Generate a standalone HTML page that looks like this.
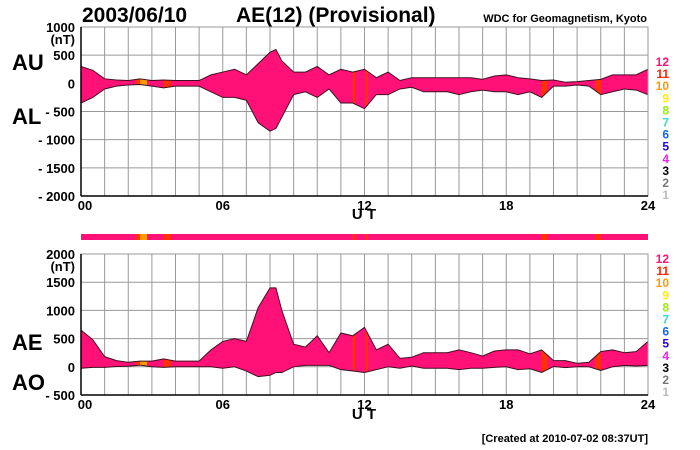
<!DOCTYPE html>
<html><head><meta charset="utf-8"><style>
body{margin:0;background:#fff;}
svg{display:block;font-family:"Liberation Sans",Arial,sans-serif;font-weight:bold;}
</style></head><body>
<svg id="c" width="700" height="450" viewBox="0 0 700 450"></svg>
<script>
const hours=[0,0.5,1,1.5,2,2.5,3,3.5,4,4.5,5,5.5,6,6.5,7,7.5,8,8.25,8.5,9,9.5,10,10.5,11,11.5,12,12.5,13,13.5,14,14.5,15,15.5,16,16.5,17,17.5,18,18.5,19,19.5,20,20.5,21,21.5,22,22.5,23,23.5,24];
const auValues=[300,230,80,60,50,80,50,60,50,50,50,150,200,250,150,350,550,600,400,200,200,300,150,250,200,250,100,200,50,100,100,100,100,100,100,70,130,150,100,80,50,60,20,30,50,70,150,150,150,250];
const alValues=[-350,-250,-100,-50,-30,-20,-50,-80,-50,-50,-50,-150,-250,-250,-300,-700,-850,-800,-600,-200,-150,-250,-100,-350,-350,-450,-200,-200,-100,-70,-150,-150,-150,-200,-150,-120,-150,-150,-200,-150,-250,-50,-50,-30,-50,-200,-150,-100,-120,-200];
const aeValues=[650,480,180,110,80,100,100,140,100,100,100,300,450,500,450,1050,1400,1400,1000,400,350,550,250,600,550,700,300,400,150,170,250,250,250,300,250,190,280,300,300,230,300,110,110,60,80,270,300,250,270,450];
const aoValues=[-25,-10,-10,5,10,30,0,-10,0,0,0,0,-25,0,-75,-175,-150,-100,-100,0,25,25,25,-50,-75,-100,-50,0,-25,15,-25,-25,-25,-50,-25,-25,-10,0,-50,-35,-100,5,-15,0,0,-65,0,25,15,25];
const bandStart=[2.3,2.5,3.5,11.5,12.05,19.5,21.75];
const bandEnd=[2.5,2.8,3.8,11.6,12.15,19.75,22.0];
const bandColor=["#ff3300","#ff9900","#ff3300","#ff3300","#ff3300","#ff3300","#ff3300"];
const xTicks=["00","06","12","18","24"];
const topYTicks=[1000,500,0,-500,-1000,-1500,-2000];
const botYTicks=[2000,1500,1000,500,0,-500];
const legendLabels=["12","11","10","9","8","7","6","5","4","3","2","1"];
const legendColors=["#ff1177","#ff2200","#ff9900","#ffee00","#99ee00","#33ddcc","#1166ff","#2200ee","#ee22ee","#000000","#777777","#bbbbbb"];

const NS="http://www.w3.org/2000/svg",svg=document.getElementById('c');
function mk(t,a,p){const e=document.createElementNS(NS,t);for(const k in a)e.setAttribute(k,a[k]);(p||svg).appendChild(e);return e;}
const X0=81,X1=648;
const x=h=>X0+(X1-X0)*h/24;
function txt(s,a){const e=mk('text',a);e.textContent=s;return e;}

function panel(pt,pb,ymax,ymin,ticks,hi,lo,name,labHi,labLo,labHiY,labLoY,legY){
  const y=v=>pt+(ymax-v)*(pb-pt)/(ymax-ymin);
  const g=mk('g',{});
  for(let h=1;h<24;h++){const l=mk('line',{x1:x(h),x2:x(h),y1:pt,y2:pb,stroke:'#999','stroke-width':1},g);}
  ticks.forEach(v=>{const l=mk('line',{x1:X0,x2:X1,y1:y(v),y2:y(v),stroke:'#999','stroke-width':1},g);
    const t=txt((v<0?'- '+(-v):''+v),{x:75,y:y(v)+5,'text-anchor':'end','font-size':13});});
  const tu=txt('(nT)',{x:75,y:y(ticks[0])+17,'text-anchor':'end','font-size':13});
  let d='M'+hours.map((h,i)=>x(h)+','+y(hi[i])).join(' L')+' L'+hours.slice().reverse().map((h,j)=>{const i=hours.length-1-j;return x(h)+','+y(lo[i]);}).join(' L')+'Z';
  const cp=mk('clipPath',{id:'cp'+name},g);mk('path',{d:d},cp);
  const f=mk('path',{d:d,fill:'#ff1177',stroke:'none'},g);
  bandStart.forEach((s,i)=>{const r=mk('rect',{x:x(s),y:pt,width:x(bandEnd[i])-x(s),height:pb-pt,fill:bandColor[i],'clip-path':'url(#cp'+name+')'},g);});
  const p1=mk('polyline',{points:hours.map((h,i)=>x(h)+','+y(hi[i])).join(' '),fill:'none',stroke:'#401020','stroke-width':1},g);
  const p2=mk('polyline',{points:hours.map((h,i)=>x(h)+','+y(lo[i])).join(' '),fill:'none',stroke:'#401020','stroke-width':1},g);
  const fr=mk('rect',{x:X0,y:pt,width:X1-X0,height:pb-pt,fill:'none',stroke:'#999'},g);
  mk('line',{x1:X0,x2:X0,y1:pt,y2:pb,stroke:'#000','stroke-width':1.5},g);
  mk('line',{x1:X0,x2:X1,y1:pb,y2:pb,stroke:'#000','stroke-width':1.5},g);
  xTicks.forEach((s,i)=>{const t=txt(s,{x:x(i*6)+(i==0?4:0),y:pb+14,'text-anchor':'middle','font-size':13});});
  const a=txt(labHi,{x:12,y:labHiY,'font-size':22});
  const b=txt(labLo,{x:12,y:labLoY,'font-size':22});
  legendLabels.forEach((s,i)=>{const t=txt(s,{x:669,y:legY+i*12.1,'text-anchor':'end','font-size':12,fill:legendColors[i]});});
}
panel(27,196,1000,-2000,topYTicks,auValues,alValues,'top','AU','AL',70,124,66);
panel(254,395,2000,-500,botYTicks,aeValues,aoValues,'bottom','AE','AO',350,390,263);
const ut1=txt('U T',{x:364,y:219,'text-anchor':'middle','font-size':15});
const ut2=txt('U T',{x:364,y:419,'text-anchor':'middle','font-size':15});
const strip=mk('rect',{x:X0,y:234,width:X1-X0,height:6,fill:'#ff1177'});
bandStart.forEach((s,i)=>{const r=mk('rect',{x:x(s),y:234,width:x(bandEnd[i])-x(s),height:6,fill:bandColor[i]});});
const t1=txt('2003/06/10',{x:82,y:22,'font-size':21});
const t2=txt('AE(12) (Provisional)',{x:236,y:22,'font-size':21});
const t3=txt('WDC for Geomagnetism, Kyoto',{x:647,y:22,'text-anchor':'end','font-size':11});
const t4=txt('[Created at 2010-07-02 08:37UT]',{x:648,y:442,'text-anchor':'end','font-size':11});
</script>
</body></html>
